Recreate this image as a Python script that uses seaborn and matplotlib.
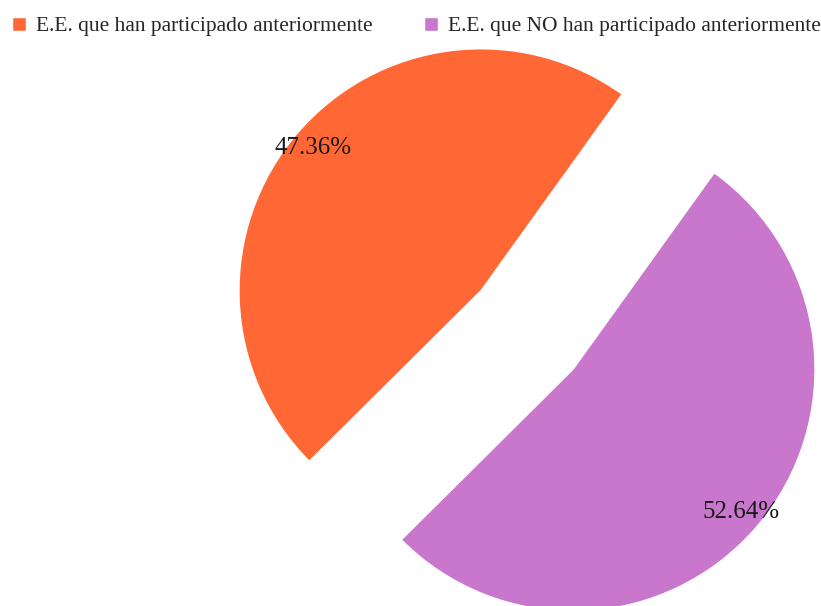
import matplotlib
matplotlib.use("Agg")
import matplotlib.pyplot as plt
import seaborn as sns

labels = ["E.E. que han participado anteriormente",
          "E.E. que NO han participado anteriormente"]
shares = [47.36, 52.64]
colors = ["#FF6835", "#C977CC"]

sns.set_style("white")
plt.rcParams["font.family"] = ["Liberation Serif", "DejaVu Serif"]

W, H = 821, 606
R = 242.0          # pie radius in pixels
cx, cy = 527, 330  # pie centre in pixels (from top-left)

fig = plt.figure(figsize=(W / 100, H / 100), dpi=100)
ax = fig.add_axes([0, 0, 1, 1])

wedges, _, autotexts = ax.pie(
    shares,
    colors=colors,
    explode=[0.25, 0.25],
    startangle=54.3,
    autopct="%.2f%%",
    pctdistance=0.91,
    textprops={"fontsize": 18, "color": "#1a1a1a"},
)

ax.set_xlim(-cx / R, (W - cx) / R)
ax.set_ylim(-(H - cy) / R, cy / R)
ax.set_aspect("equal")
ax.axis("off")

ax.legend(
    wedges, labels,
    loc="upper left", bbox_to_anchor=(3.5 / W, 1 - 8 / H),
    bbox_transform=fig.transFigure,
    ncol=2, frameon=False, fontsize=15.5,
    handlelength=0.65, handleheight=0.65, handletextpad=0.47,
    columnspacing=2.37, borderaxespad=0.0,
)

fig.savefig("out.png", dpi=100)
